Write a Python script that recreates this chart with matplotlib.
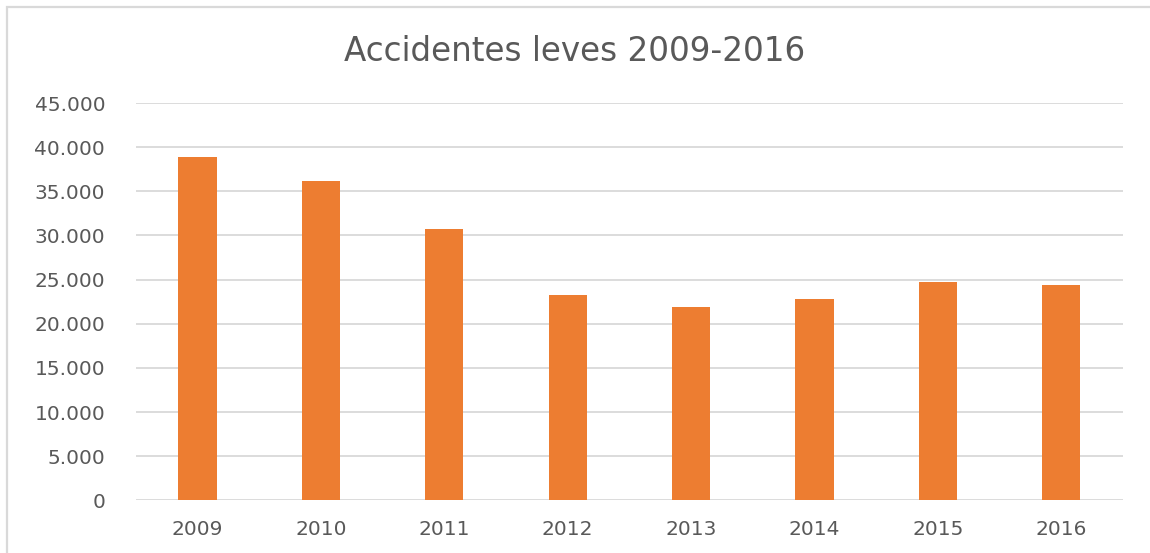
import matplotlib
matplotlib.use("Agg")
import matplotlib.pyplot as plt
from matplotlib.ticker import FuncFormatter, MultipleLocator
from matplotlib.patches import Rectangle

years = ["2009", "2010", "2011", "2012", "2013", "2014", "2015", "2016"]
values = [38900, 36200, 30700, 23200, 21900, 22800, 24700, 24400]
title = "Accidentes leves 2009-2016"

plt.rcParams['font.family'] = ['DejaVu Sans']
text_color = "#595959"
grid_color = "#D9D9D9"
bar_color = "#ED7D31"

fig = plt.figure(figsize=(11.5, 5.53), dpi=100)
ax = fig.add_axes([0.118, 0.0953, 0.8585, 0.7184])

x = range(len(years))
ax.bar(x, values, width=0.31, color=bar_color, zorder=3)
ax.set_xlim(-0.5, len(years) - 0.5)
ax.set_ylim(0, 45000)
ax.yaxis.set_major_locator(MultipleLocator(5000))
ax.yaxis.set_major_formatter(FuncFormatter(lambda v, p: f"{int(v):,}".replace(",", ".")))
ax.set_xticks(list(x))
ax.set_xticklabels(years)

ax.grid(axis='y', color=grid_color, linewidth=1.3, zorder=0)
for s in ax.spines.values():
    s.set_visible(False)
ax.tick_params(axis='both', length=0, colors=text_color, labelsize=14.5)
ax.tick_params(axis='y', pad=22)
ax.tick_params(axis='x', pad=14)

fig.text(0.5, (553 - 61) / 553, title, ha='center', va='baseline', fontsize=23.5, color=text_color)

# chart frame: only top and left edges fall inside the image
top = (553 - 7) / 553
left = 6.5 / 1150
fig.patches.append(Rectangle((left, -0.2), 1.5, top + 0.2, transform=fig.transFigure,
                             fill=False, edgecolor=grid_color, linewidth=1.6))

fig.savefig("out.png", dpi=100)
